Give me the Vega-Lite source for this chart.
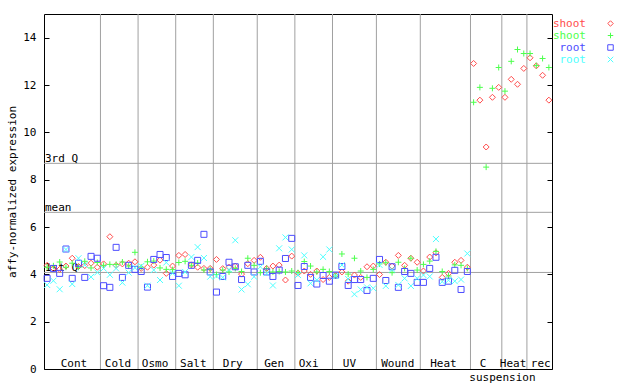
{
  "$schema": "https://vega.github.io/schema/vega-lite/v6.json",
  "width": 508,
  "height": 355,
  "autosize": {"type": "none"},
  "padding": {"left": 44, "top": 14, "right": 88, "bottom": 15},
  "background": "white",
  "config": {
    "view": {"stroke": "black", "strokeWidth": 1},
    "font": "DejaVu Sans Mono",
    "text": {"font": "DejaVu Sans Mono", "fontSize": 11, "color": "black"}
  },
  "datasets": {
    "pts": [
      {"x": 0.5, "shoot_a": 4.38, "shoot_b": 4.30, "root_a": 3.83, "root_b": 3.55},
      {"x": 1.5, "shoot_a": 4.25, "shoot_b": 4.36, "root_a": 4.25, "root_b": 3.73},
      {"x": 2.5, "shoot_a": 4.21, "shoot_b": 4.52, "root_a": 4.04, "root_b": 3.37},
      {"x": 3.5, "shoot_a": 4.35, "shoot_b": 4.30, "root_a": 5.07, "root_b": 5.05},
      {"x": 4.5, "shoot_a": 4.68, "shoot_b": 4.47, "root_a": 3.83, "root_b": 3.59},
      {"x": 5.5, "shoot_a": 4.33, "shoot_b": 4.30, "root_a": 4.47, "root_b": 4.68},
      {"x": 6.5, "shoot_a": 4.37, "shoot_b": 4.55, "root_a": 3.87, "root_b": 4.40},
      {"x": 7.5, "shoot_a": 4.47, "shoot_b": 4.27, "root_a": 4.76, "root_b": 3.89},
      {"x": 8.5, "shoot_a": 4.30, "shoot_b": 4.50, "root_a": 4.68, "root_b": 4.08},
      {"x": 9.5, "shoot_a": 4.44, "shoot_b": 4.38, "root_a": 3.52, "root_b": 4.25},
      {"x": 10.5, "shoot_a": 5.59, "shoot_b": 4.42, "root_a": 3.45, "root_b": 3.98},
      {"x": 11.5, "shoot_a": 4.38, "shoot_b": 4.42, "root_a": 5.14, "root_b": 4.25},
      {"x": 12.5, "shoot_a": 4.44, "shoot_b": 4.52, "root_a": 3.87, "root_b": 3.65},
      {"x": 13.5, "shoot_a": 4.47, "shoot_b": 4.35, "root_a": 4.38, "root_b": 4.07},
      {"x": 14.5, "shoot_a": 4.53, "shoot_b": 4.93, "root_a": 4.21, "root_b": 4.28},
      {"x": 15.5, "shoot_a": 4.25, "shoot_b": 4.30, "root_a": 4.12, "root_b": 4.35},
      {"x": 16.5, "shoot_a": 4.30, "shoot_b": 4.53, "root_a": 3.46, "root_b": 3.52},
      {"x": 17.5, "shoot_a": 4.39, "shoot_b": 4.56, "root_a": 4.63, "root_b": 4.18},
      {"x": 18.5, "shoot_a": 4.60, "shoot_b": 4.27, "root_a": 4.84, "root_b": 3.76},
      {"x": 19.5, "shoot_a": 4.04, "shoot_b": 4.21, "root_a": 4.71, "root_b": 4.50},
      {"x": 20.5, "shoot_a": 4.35, "shoot_b": 4.20, "root_a": 3.91, "root_b": 4.05},
      {"x": 21.5, "shoot_a": 4.80, "shoot_b": 4.50, "root_a": 4.04, "root_b": 3.52},
      {"x": 22.5, "shoot_a": 4.84, "shoot_b": 4.55, "root_a": 3.98, "root_b": 4.10},
      {"x": 23.5, "shoot_a": 4.40, "shoot_b": 4.38, "root_a": 4.38, "root_b": 4.73},
      {"x": 24.5, "shoot_a": 4.30, "shoot_b": 4.48, "root_a": 4.59, "root_b": 5.15},
      {"x": 25.5, "shoot_a": 4.25, "shoot_b": 4.18, "root_a": 5.69, "root_b": 4.69},
      {"x": 26.5, "shoot_a": 4.25, "shoot_b": 4.21, "root_a": 4.10, "root_b": 3.90},
      {"x": 27.5, "shoot_a": 4.63, "shoot_b": 3.99, "root_a": 3.25, "root_b": 3.93},
      {"x": 28.5, "shoot_a": 4.24, "shoot_b": 4.18, "root_a": 3.91, "root_b": 3.87},
      {"x": 29.5, "shoot_a": 4.30, "shoot_b": 4.10, "root_a": 4.51, "root_b": 4.20},
      {"x": 30.5, "shoot_a": 4.35, "shoot_b": 4.25, "root_a": 4.32, "root_b": 5.44},
      {"x": 31.5, "shoot_a": 4.01, "shoot_b": 4.12, "root_a": 3.78, "root_b": 3.36},
      {"x": 32.5, "shoot_a": 4.45, "shoot_b": 4.68, "root_a": 4.38, "root_b": 3.58},
      {"x": 33.5, "shoot_a": 4.59, "shoot_b": 4.38, "root_a": 4.10, "root_b": 3.90},
      {"x": 34.5, "shoot_a": 4.72, "shoot_b": 4.07, "root_a": 4.55, "root_b": 4.32},
      {"x": 35.5, "shoot_a": 4.25, "shoot_b": 4.25, "root_a": 4.10, "root_b": 4.05},
      {"x": 36.5, "shoot_a": 4.35, "shoot_b": 4.10, "root_a": 3.91, "root_b": 3.53},
      {"x": 37.5, "shoot_a": 4.39, "shoot_b": 4.12, "root_a": 4.18, "root_b": 5.10},
      {"x": 38.5, "shoot_a": 3.76, "shoot_b": 4.10, "root_a": 4.67, "root_b": 5.56},
      {"x": 39.5, "shoot_a": 4.77, "shoot_b": 4.14, "root_a": 5.52, "root_b": 5.05},
      {"x": 40.5, "shoot_a": 4.05, "shoot_b": 4.07, "root_a": 3.53, "root_b": 3.97},
      {"x": 41.5, "shoot_a": 4.14, "shoot_b": 4.54, "root_a": 4.33, "root_b": 4.80},
      {"x": 42.5, "shoot_a": 4.00, "shoot_b": 4.35, "root_a": 3.87, "root_b": 3.62},
      {"x": 43.5, "shoot_a": 4.14, "shoot_b": 4.10, "root_a": 3.59, "root_b": 3.76},
      {"x": 44.5, "shoot_a": 3.78, "shoot_b": 4.21, "root_a": 3.95, "root_b": 4.74},
      {"x": 45.5, "shoot_a": 3.87, "shoot_b": 4.12, "root_a": 3.71, "root_b": 5.05},
      {"x": 46.5, "shoot_a": 3.95, "shoot_b": 3.93, "root_a": 3.97, "root_b": 3.93},
      {"x": 47.5, "shoot_a": 4.10, "shoot_b": 4.86, "root_a": 4.33, "root_b": 4.39},
      {"x": 48.5, "shoot_a": 3.71, "shoot_b": 4.01, "root_a": 3.53, "root_b": 3.80},
      {"x": 49.5, "shoot_a": 3.97, "shoot_b": 4.68, "root_a": 3.78, "root_b": 3.16},
      {"x": 50.5, "shoot_a": 3.87, "shoot_b": 4.14, "root_a": 3.78, "root_b": 3.36},
      {"x": 51.5, "shoot_a": 4.32, "shoot_b": 3.87, "root_a": 3.32, "root_b": 3.45},
      {"x": 52.5, "shoot_a": 4.35, "shoot_b": 4.21, "root_a": 3.83, "root_b": 3.41},
      {"x": 53.5, "shoot_a": 3.99, "shoot_b": 4.44, "root_a": 4.63, "root_b": 4.40},
      {"x": 54.5, "shoot_a": 4.51, "shoot_b": 4.49, "root_a": 3.74, "root_b": 3.51},
      {"x": 55.5, "shoot_a": 4.35, "shoot_b": 4.07, "root_a": 4.32, "root_b": 4.20},
      {"x": 56.5, "shoot_a": 4.80, "shoot_b": 4.51, "root_a": 3.45, "root_b": 3.55},
      {"x": 57.5, "shoot_a": 4.38, "shoot_b": 4.25, "root_a": 4.12, "root_b": 3.83},
      {"x": 58.5, "shoot_a": 4.68, "shoot_b": 4.68, "root_a": 4.04, "root_b": 3.51},
      {"x": 59.5, "shoot_a": 4.51, "shoot_b": 4.18, "root_a": 3.66, "root_b": 3.83},
      {"x": 60.5, "shoot_a": 4.14, "shoot_b": 4.42, "root_a": 3.66, "root_b": 3.97},
      {"x": 61.5, "shoot_a": 4.73, "shoot_b": 4.56, "root_a": 4.25, "root_b": 3.91},
      {"x": 62.5, "shoot_a": 4.91, "shoot_b": 4.97, "root_a": 4.72, "root_b": 5.49},
      {"x": 63.5, "shoot_a": 3.87, "shoot_b": 4.12, "root_a": 3.66, "root_b": 3.69},
      {"x": 64.5, "shoot_a": 4.04, "shoot_b": 3.93, "root_a": 3.71, "root_b": 3.75},
      {"x": 65.5, "shoot_a": 4.51, "shoot_b": 4.40, "root_a": 4.17, "root_b": 3.71},
      {"x": 66.5, "shoot_a": 4.59, "shoot_b": 4.38, "root_a": 3.36, "root_b": 3.78},
      {"x": 67.5, "shoot_a": 4.30, "shoot_b": 4.25, "root_a": 4.12, "root_b": 4.88},
      {"x": 68.5, "shoot_a": 12.91, "shoot_b": 11.27},
      {"x": 69.5, "shoot_a": 11.36, "shoot_b": 11.90},
      {"x": 70.5, "shoot_a": 9.38, "shoot_b": 8.53},
      {"x": 71.5, "shoot_a": 11.48, "shoot_b": 11.86},
      {"x": 72.5, "shoot_a": 11.90, "shoot_b": 12.74},
      {"x": 73.5, "shoot_a": 11.48, "shoot_b": 11.74},
      {"x": 74.5, "shoot_a": 12.24, "shoot_b": 13.00},
      {"x": 75.5, "shoot_a": 12.03, "shoot_b": 13.50},
      {"x": 76.5, "shoot_a": 12.70, "shoot_b": 13.33},
      {"x": 77.5, "shoot_a": 13.15, "shoot_b": 13.33},
      {"x": 78.5, "shoot_a": 12.81, "shoot_b": 12.82},
      {"x": 79.5, "shoot_a": 12.41, "shoot_b": 13.12},
      {"x": 80.5, "shoot_a": 11.36, "shoot_b": 12.74}
    ],
    "qs": [
      {"label": "3rd Q", "v": 8.69},
      {"label": "mean", "v": 6.62},
      {"label": "1st Q", "v": 4.08}
    ],
    "dividers": [
      {"d": 9}, {"d": 15}, {"d": 21}, {"d": 27}, {"d": 34}, {"d": 40},
      {"d": 46}, {"d": 53}, {"d": 60}, {"d": 68}, {"d": 73}, {"d": 77}
    ],
    "groups": [
      {"label": "Cont", "pos": 4.78},
      {"label": "Cold", "pos": 11.8},
      {"label": "Osmo", "pos": 17.7},
      {"label": "Salt", "pos": 23.8},
      {"label": "Dry", "pos": 30.1},
      {"label": "Gen", "pos": 36.7},
      {"label": "Oxi", "pos": 42.2},
      {"label": "UV", "pos": 48.7},
      {"label": "Wound", "pos": 56.4},
      {"label": "Heat", "pos": 63.7},
      {"label": "C", "pos": 70.0},
      {"label": "Heat", "pos": 74.8},
      {"label": "rec", "pos": 79.2}
    ],
    "sub": [
      {"label": "suspension", "pos": 73.1}
    ]
  },
  "layer": [
    {
      "data": {"name": "dividers"},
      "mark": {"type": "rule", "color": "#a0a0a0", "strokeWidth": 1},
      "encoding": {
        "x": {"field": "d", "type": "quantitative", "scale": {"domain": [0, 81], "nice": false, "zero": false}, "axis": null}
      }
    },
    {
      "data": {"name": "qs"},
      "mark": {"type": "rule", "color": "#a0a0a0", "strokeWidth": 1},
      "encoding": {
        "y": {
          "field": "v", "type": "quantitative",
          "scale": {"domain": [0, 15], "nice": false, "zero": true},
          "axis": {"orient": "right", "values": [0, 2, 4, 6, 8, 10, 12, 14], "labels": false, "domain": false, "grid": false, "tickSize": -5, "tickColor": "black", "title": null}
        }
      }
    },
    {
      "data": {"name": "qs"},
      "mark": {"type": "text", "align": "left", "baseline": "alphabetic", "dx": 1, "dy": -1},
      "encoding": {
        "x": {"datum": 0, "type": "quantitative", "axis": null},
        "y": {"field": "v", "type": "quantitative", "axis": null},
        "text": {"field": "label"}
      }
    },
    {
      "data": {"name": "groups"},
      "mark": {"type": "text", "align": "center", "baseline": "alphabetic", "dy": -2},
      "encoding": {
        "x": {"field": "pos", "type": "quantitative", "axis": null},
        "y": {"datum": 0, "type": "quantitative", "axis": null},
        "text": {"field": "label"}
      }
    },
    {
      "data": {"name": "sub"},
      "mark": {"type": "text", "align": "center", "baseline": "alphabetic", "dy": 12},
      "encoding": {
        "x": {"field": "pos", "type": "quantitative", "axis": null},
        "y": {"datum": 0, "type": "quantitative", "axis": null},
        "text": {"field": "label"}
      }
    },
    {
      "data": {"name": "pts"},
      "transform": [
        {"fold": ["shoot_a", "shoot_b", "root_a", "root_b"], "as": ["series", "value"]},
        {"filter": {"field": "value", "valid": true}}
      ],
      "mark": {"type": "point", "filled": false, "strokeWidth": 1, "opacity": 1, "size": 36},
      "encoding": {
        "x": {
          "field": "x", "type": "quantitative",
          "scale": {"domain": [0, 81], "nice": false, "zero": false},
          "axis": null
        },
        "y": {
          "field": "value", "type": "quantitative",
          "scale": {"domain": [0, 15], "nice": false, "zero": true},
          "axis": {
            "orient": "left",
            "values": [0, 2, 4, 6, 8, 10, 12, 14],
            "grid": false, "domain": false,
            "tickSize": -5, "tickColor": "black",
            "labelPadding": 13, "labelColor": "black", "labelFont": "DejaVu Sans Mono", "labelFontSize": 11,
            "title": "affy-normalized expression",
            "titleFont": "DejaVu Sans Mono", "titleFontSize": 11, "titleFontWeight": "normal", "titleColor": "black",
            "titleX": -32, "titleY": 177.5, "titleBaseline": "middle", "titleAlign": "center"
          }
        },
        "color": {
          "field": "series", "type": "nominal",
          "scale": {"domain": ["shoot_a", "shoot_b", "root_a", "root_b"], "range": ["#ff4d4d", "#4dff4d", "#4d4dff", "#4dffff"]},
          "legend": {
            "orient": "none", "legendX": 561, "legendY": 4, "title": null, "padding": 0, "rowPadding": 0,
            "labelExpr": "datum.value == 'shoot_a' || datum.value == 'shoot_b' ? 'shoot' : 'root'",
            "labelAlign": "right", "labelOffset": -30,
            "labelFont": "DejaVu Sans Mono", "labelFontSize": 11,
            "labelColor": {"expr": "datum.value == 'shoot_a' ? '#ff4d4d' : datum.value == 'shoot_b' ? '#4dff4d' : datum.value == 'root_a' ? '#4d4dff' : '#4dffff'"},
            "symbolSize": 30, "symbolStrokeWidth": 1
          }
        },
        "shape": {
          "field": "series", "type": "nominal",
          "scale": {"domain": ["shoot_a", "shoot_b", "root_a", "root_b"], "range": ["diamond", "M-1,0L1,0M0,-1L0,1", "square", "M-1,-1L1,1M-1,1L1,-1"]},
          "legend": {
            "orient": "none", "legendX": 561, "legendY": 4, "title": null, "padding": 0, "rowPadding": 0,
            "labelExpr": "datum.value == 'shoot_a' || datum.value == 'shoot_b' ? 'shoot' : 'root'",
            "labelAlign": "right", "labelOffset": -30,
            "labelFont": "DejaVu Sans Mono", "labelFontSize": 11,
            "labelColor": {"expr": "datum.value == 'shoot_a' ? '#ff4d4d' : datum.value == 'shoot_b' ? '#4dff4d' : datum.value == 'root_a' ? '#4d4dff' : '#4dffff'"},
            "symbolSize": 30, "symbolStrokeWidth": 1
          }
        }
      }
    }
  ],
  "resolve": {"axis": {"y": "independent"}}
}
